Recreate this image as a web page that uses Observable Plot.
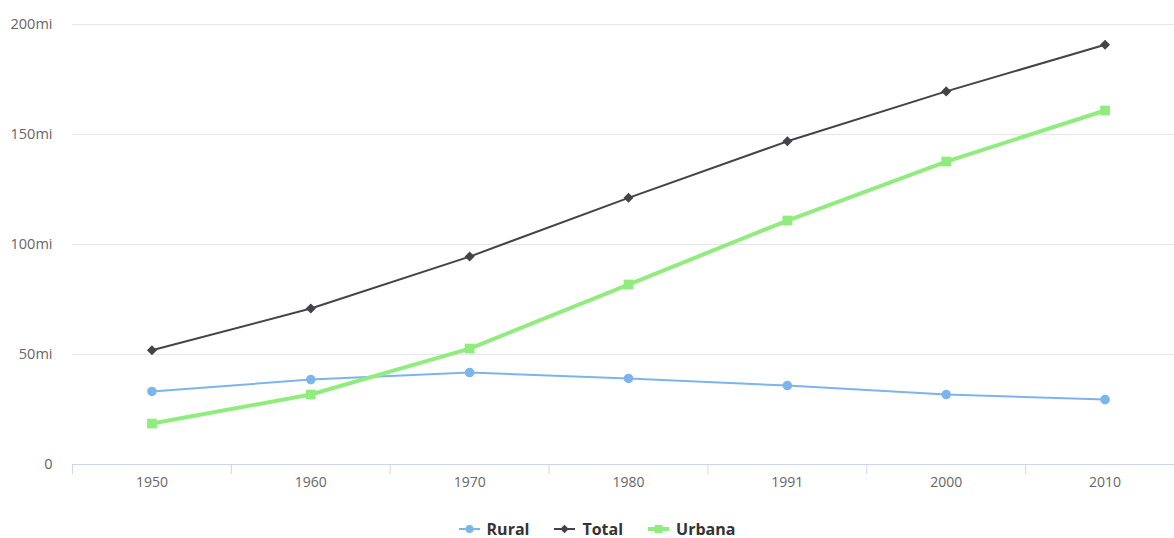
<!DOCTYPE html>
<html>
<head>
<meta charset="utf-8">
<script src="https://cdn.jsdelivr.net/npm/d3@7"></script>
<script src="https://cdn.jsdelivr.net/npm/@observablehq/plot@0.6"></script>
<style>
  html, body { margin: 0; padding: 0; background: #fff; overflow: hidden; }
  body { width: 1174px; height: 538px; position: relative; font-family: "Open Sans", sans-serif; }
  #chart { position: absolute; left: 0; top: 0; width: 1184px; }
  #chart svg { max-width: none !important; }
  #legend { position: absolute; left: 0; top: 521px; width: 1194px; height: 16px; display: flex; justify-content: center; gap: 25px; font: bold 16px/16px "Open Sans", sans-serif; color: #333333; }
  .item { display: flex; align-items: center; gap: 7px; height: 16px; }
</style>
</head>
<body>
<div id="chart"></div>
<div id="legend"></div>
<script>
const years = ["1950", "1960", "1970", "1980", "1991", "2000", "2010"];
const rural = [33.2, 38.6, 41.8, 39.1, 35.9, 31.8, 29.5];
const total = [51.9, 70.9, 94.5, 121.2, 146.9, 169.6, 190.8];
const urbana = [18.6, 31.8, 52.7, 81.8, 110.9, 137.7, 160.9];
const yTicks = [0, 50, 100, 150, 200];

const diamondSymbol = {
  draw(context, size) {
    const h = Math.sqrt(size / 2);
    context.moveTo(0, -h);
    context.lineTo(h, 0);
    context.lineTo(0, h);
    context.lineTo(-h, 0);
    context.closePath();
  }
};

const seriesDefs = [
  {name: "Rural", values: rural, color: "#7cb5ec", width: 2, symbol: d3.symbolCircle, r: 4.8, lr: 4},
  {name: "Total", values: total, color: "#434348", width: 2, symbol: diamondSymbol, r: 4, lr: 3.4},
  {name: "Urbana", values: urbana, color: "#90ed7d", width: 4, symbol: d3.symbolSquare, r: 5.5, lr: 4.5}
];

const rows = seriesDefs.flatMap(s => s.values.map((v, i) => ({series: s.name, i, v})));
const idx = years.map((_, i) => i);
const bounds = d3.range(-0.5, years.length, 1);

const marks = [
  Plot.gridY(yTicks.filter(d => d > 0), {stroke: "#e6e6e6", strokeOpacity: 1, strokeWidth: 1}),
  Plot.axisY(yTicks, {tickSize: 0, tickPadding: 20, tickFormat: d => d === 0 ? "0" : d + "mi", fill: "#666666", fontSize: 14.5, label: null}),
  Plot.ruleY([0], {stroke: "#ccd6eb", strokeWidth: 1}),
  Plot.axisX(bounds, {tickSize: 10, stroke: "#ccd6eb", strokeOpacity: 1, tickFormat: () => "", label: null}),
  Plot.axisX(idx, {tickSize: 0, tickPadding: 13, tickFormat: i => years[i], fill: "#666666", fontSize: 14, label: null})
];
for (const s of seriesDefs) {
  const data = rows.filter(d => d.series === s.name);
  marks.push(Plot.line(data, {x: "i", y: "v", stroke: s.color, strokeWidth: s.width, curve: "linear"}));
  marks.push(Plot.dot(data, {x: "i", y: "v", fill: s.color, stroke: "none", symbol: s.symbol, r: s.r}));
}

const chart = Plot.plot({
  width: 1184,
  height: 500,
  marginLeft: 72,
  marginRight: 0,
  marginTop: 24,
  marginBottom: 36,
  style: {fontFamily: "'Open Sans', sans-serif", fontSize: "13px", background: "#fff", overflow: "visible", maxWidth: "none"},
  x: {type: "linear", domain: [-0.5, years.length - 0.5], axis: null, label: null},
  y: {domain: [0, 200], axis: null, label: null},
  marks
});
document.getElementById("chart").appendChild(chart);

const legend = document.getElementById("legend");
for (const s of seriesDefs) {
  const item = document.createElement("div");
  item.className = "item";
  const svg = d3.create("svg").attr("width", 21).attr("height", 12);
  svg.append("line").attr("x1", 0).attr("x2", 21).attr("y1", 6).attr("y2", 6)
    .attr("stroke", s.color).attr("stroke-width", s.width);
  svg.append("path").attr("transform", "translate(10.5,6)")
    .attr("d", d3.symbol(s.symbol, s.lr * s.lr * Math.PI)())
    .attr("fill", s.color);
  item.appendChild(svg.node());
  const t = document.createElement("span");
  t.textContent = s.name;
  item.appendChild(t);
  legend.appendChild(item);
}
</script>
</body>
</html>
